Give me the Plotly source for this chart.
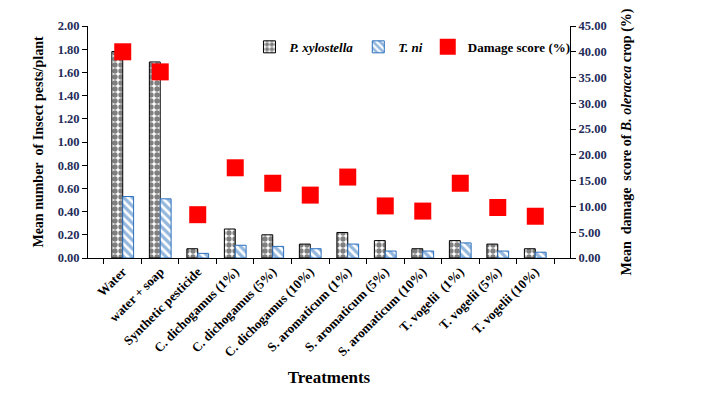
import plotly.graph_objects as go

treatments = ["Water", "water + soap", "Synthetic pesticide",
              "C. dichogamus (1%)", "C. dichogamus (5%)", "C. dichogamus (10%)",
              "S. aromaticum (1%)", "S. aromaticum (5%)", "S. aromaticum (10%)",
              "T. vogelii  (1%)", "T. vogelii (5%)", "T. vogelii (10%)"]
p_xylostella = [1.78, 1.69, 0.08, 0.25, 0.20, 0.12, 0.22, 0.15, 0.08, 0.15, 0.12, 0.08]
t_ni = [0.53, 0.51, 0.04, 0.11, 0.10, 0.08, 0.12, 0.06, 0.06, 0.13, 0.06, 0.05]
damage = [40.0, 36.1, 8.4, 17.5, 14.5, 12.2, 15.7, 10.1, 9.1, 14.5, 9.8, 8.1]

left_ticks = [0, 0.2, 0.4, 0.6, 0.8, 1.0, 1.2, 1.4, 1.6, 1.8, 2.0]
right_ticks = [0, 5, 10, 15, 20, 25, 30, 35, 40, 45]

serif = "Liberation Serif"
navy = "#1f2d5a"
blue = "#2a6fbd"
nb = "\u00a0"

fig = go.Figure()

fig.add_trace(go.Bar(
    x=treatments, y=p_xylostella, name="<i>P. xylostella</i>",
    marker=dict(color="white", line=dict(color="black", width=1),
                pattern=dict(shape=".", fgcolor="black", bgcolor="white",
                             size=6, solidity=0.62)),
))
fig.add_trace(go.Bar(
    x=treatments, y=t_ni, name="<i>T. ni</i>",
    marker=dict(color="white", line=dict(color=blue, width=1),
                pattern=dict(shape="\\", fgcolor=blue, bgcolor="white",
                             size=6, solidity=0.55)),
))
fig.add_trace(go.Scatter(
    x=treatments, y=damage, name="Damage score (%)", yaxis="y2",
    mode="markers",
    marker=dict(symbol="square", size=17, color="#ff0000"),
))

fig.update_layout(
    width=697, height=389,
    margin=dict(l=80, r=135, t=18, b=139),
    plot_bgcolor="white", paper_bgcolor="white",
    font=dict(family=serif, color="black", size=12),
    barmode="group", bargap=0.42, bargroupgap=0,
    showlegend=True,
    legend=dict(orientation="h", x=0.335, y=0.91, xanchor="left", yanchor="middle",
                font=dict(family=serif, size=13, color="black", weight="bold"),
                itemwidth=30, bgcolor="rgba(0,0,0,0)"),
    xaxis=dict(
        tickangle=-45, tickson="boundaries", ticks="outside", ticklen=5,
        tickcolor="black", showline=True, linecolor="black", linewidth=1,
        tickfont=dict(family=serif, size=13, color="black", weight="bold"),
        title=dict(text="Treatments", font=dict(family=serif, size=17, weight="bold"),
                   standoff=12),
        showgrid=False,
    ),
    yaxis=dict(
        range=[0, 2.0], tickvals=left_ticks, tickformat=".2f",
        ticks="outside", ticklen=5, tickcolor="black",
        showline=True, linecolor="black", linewidth=1, showgrid=False, zeroline=False,
        tickfont=dict(family=serif, size=12.5, color=navy, weight="bold"),
        title=dict(text="Mean number" + nb + " of Insect pests/plant",
                   font=dict(family=serif, size=14, weight="bold"), standoff=10),
    ),
    yaxis2=dict(
        range=[0, 45], tickvals=right_ticks, tickformat=".2f",
        overlaying="y", side="right", anchor="x",
        ticks="outside", ticklen=5, tickcolor="black",
        showline=True, linecolor="black", linewidth=1, showgrid=False, zeroline=False,
        tickfont=dict(family=serif, size=12.5, color=navy, weight="bold"),
        title=dict(text="Mean" + nb + nb + "damage" + nb + nb + "score of <i>B. oleracea</i> crop (%)",
                   font=dict(family=serif, size=14, weight="bold"), standoff=15),
    ),
)

fig.write_html("out.html")
